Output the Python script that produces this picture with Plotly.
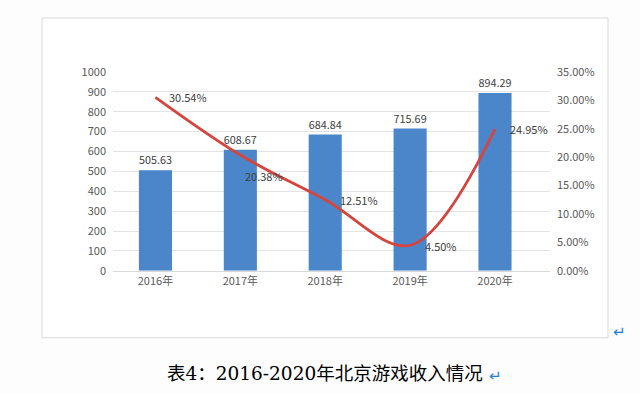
import plotly.graph_objects as go

years = ["2016年", "2017年", "2018年", "2019年", "2020年"]
revenue = [505.63, 608.67, 684.84, 715.69, 894.29]
growth = [0.3054, 0.2038, 0.1251, 0.0450, 0.2495]
growth_labels = ["30.54%", "20.38%", "12.51%", "4.50%", "24.95%"]
caption = "表4：2016-2020年北京游戏收入情况"

# the photographed page maps figure y to 8 + 0.96*y
W, H, TOP, SY = 640, 393, 8, 0.96
px = lambda x: x / W
py = lambda y: 1 - ((y - TOP) / SY) / H

FONT = "Noto Sans CJK SC"
TICK = "#595959"

fig = go.Figure()
fig.add_trace(go.Bar(
    x=years, y=revenue, marker=dict(color="#4a86c9", line=dict(width=0)),
    width=0.39, text=[f"{v:.2f}" for v in revenue], textposition="outside",
    textfont=dict(color="#404040", size=11, family=FONT), cliponaxis=False,
    yaxis="y", showlegend=False,
))
fig.add_trace(go.Scatter(
    x=years, y=growth, mode="lines", yaxis="y2",
    line=dict(color="#d6443e", width=2.8, shape="spline", smoothing=1.0),
    cliponaxis=False, showlegend=False, hoverinfo="skip",
))

label_shift = [(12, 0), (3, -21), (13, 0), (13, -1), (13, 0)]
annotations = [
    dict(x=yr, y=g, xref="x", yref="y2", text=t, showarrow=False,
         xanchor="left", yanchor="middle", xshift=dx, yshift=dy,
         font=dict(color="#404040", size=11, family=FONT))
    for yr, g, t, (dx, dy) in zip(years, growth, growth_labels, label_shift)
]
annotations += [
    dict(text=caption, xref="paper", yref="paper", x=px(165), y=py(373),
         xanchor="left", yanchor="middle", showarrow=False,
         font=dict(family="DejaVu Serif, Noto Sans CJK SC", size=18.5, color="#000000")),
    dict(text="↵", xref="paper", yref="paper", x=px(487), y=py(375),
         xanchor="left", yanchor="middle", showarrow=False,
         font=dict(family="DejaVu Sans", size=15, color="#1e7fd8")),
    dict(text="↵", xref="paper", yref="paper", x=px(611), y=py(331),
         xanchor="left", yanchor="middle", showarrow=False,
         font=dict(family="DejaVu Sans", size=15, color="#1e7fd8")),
]

fig.update_layout(
    width=W, height=H, margin=dict(l=0, r=0, t=0, b=0),
    paper_bgcolor="#fdfdfe", plot_bgcolor="rgba(0,0,0,0)",
    font=dict(family=FONT, color=TICK, size=11),
    xaxis=dict(domain=[px(113), px(550)], showgrid=False, showline=True,
               linecolor="#d9d9d9", linewidth=1, ticks="",
               tickfont=dict(size=11, color=TICK), anchor="y"),
    yaxis=dict(domain=[py(270), py(71)], range=[0, 1000], dtick=100,
               showgrid=True, gridcolor="#e3e3e3", gridwidth=1, zeroline=False,
               showline=False, ticks="", tickfont=dict(size=11, color=TICK),
               ticklabelstandoff=6),
    yaxis2=dict(overlaying="y", side="right", range=[0, 0.35], dtick=0.05,
                tickformat=".2%", showgrid=False, zeroline=False, showline=False,
                ticks="", tickfont=dict(size=11, color=TICK), anchor="x",
                ticklabelstandoff=6),
    shapes=[
        dict(type="rect", xref="paper", yref="paper", x0=px(42), x1=px(608),
             y0=py(337), y1=py(17), line=dict(color="#d9d9d9", width=1),
             fillcolor="white", layer="below"),
    ],
    annotations=annotations,
)

fig.write_html("out.html", config={"displayModeBar": False},
               post_script="document.body.style.margin='0';document.body.style.overflow='hidden';")
